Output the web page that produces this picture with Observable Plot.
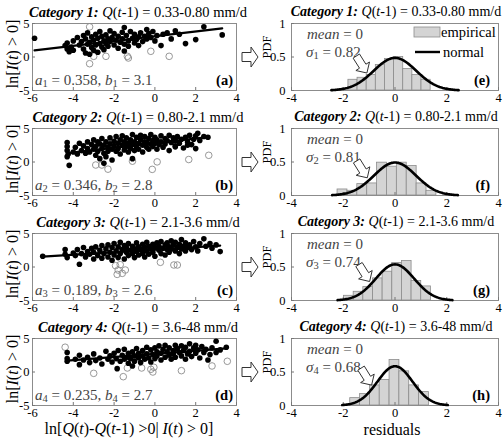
<!DOCTYPE html>
<html>
<head>
<meta charset="utf-8">
<script src="https://cdn.jsdelivr.net/npm/d3@7"></script>
<script src="https://cdn.jsdelivr.net/npm/@observablehq/plot@0.6"></script>
<style>
  html, body { margin: 0; padding: 0; background: #fff; }
  #fig { position: relative; width: 504px; height: 440px; overflow: hidden; font-family: "Liberation Serif", "Times New Roman", serif; }
  #fig sub { font-size: 70%; vertical-align: -0.28em; line-height: 0; }
</style>
</head>
<body>
<div id="fig"></div>
<script>
// ---- tick values ----
const xTicksL = [-6, -4, -2, 0, 2, 4];
const yTicksL = [-5, 0, 5];
const xTicksR = [-4, -2, 0, 2, 4];
const yTicksR = [0, 0.5, 1];

// ---- categories and fitted parameters ----
const categories = ["1", "2", "3", "4"];
const qRanges = ["0.33-0.80", "0.80-2.1", "2.1-3.6", "3.6-48"];
const slopeA = [0.358, 0.346, 0.189, 0.235];
const interceptB = [3.1, 2.8, 2.6, 2.7];
const sigma = [0.82, 0.81, 0.74, 0.68];
const leftTags = ["(a)", "(b)", "(c)", "(d)"];
const rightTags = ["(e)", "(f)", "(g)", "(h)"];

// ---- scatter: [ln ΔQ, ln I] pairs, used in the fit ----
const filled1 = [
  [-5.9,2.8],[-4.4,1.7],[-4.3,1.2],[-4.3,2.1],[-4.2,0.8],[-4.1,1.5],[-4.0,2.4],[-4.0,1.0],
  [-3.8,2.9],[-3.7,1.8],[-3.6,2.3],[-3.5,3.2],[-3.5,1.2],[-3.4,0.6],[-3.4,2.7],[-3.3,1.9],[-3.3,3.6],
  [-3.2,0.4],[-3.2,2.2],[-3.1,1.4],[-3.1,3.0],[-3.0,2.5],[-3.0,1.0],[-2.9,3.4],[-2.9,1.8],[-2.8,2.8],
  [-2.8,0.7],[-2.7,2.0],[-2.7,3.8],[-2.6,1.5],[-2.6,3.1],[-2.5,2.4],[-2.5,1.1],[-2.4,3.3],[-2.4,2.0],
  [-2.3,2.7],[-2.3,1.6],[-2.2,3.9],[-2.2,2.3],[-2.1,2.9],[-2.0,1.8],[-2.0,3.5],[-1.9,2.5],[-1.8,1.3],
  [-1.8,3.1],[-1.7,2.2],[-1.6,3.7],[-1.6,2.7],[-1.5,1.9],[-1.5,0.9],[-1.5,4.4],[-1.4,3.2],[-1.3,2.4],
  [-1.3,1.6],[-1.2,3.8],[-1.1,2.8],[-1.0,2.1],[-1.0,3.4],[-0.9,2.6],[-0.8,3.0],[-0.8,1.7],[-0.7,3.6],
  [-0.6,2.3],[-0.5,3.1],[-0.4,4.1],[-0.4,2.7],[-0.3,3.5],[-0.2,2.9],[-0.1,3.8],[0.0,2.4],[0.1,3.2],
  [0.3,1.7],[0.4,3.4],[0.6,3.6],[0.8,2.7],[1.0,3.9],[1.2,3.4],[1.5,2.0],[2.0,2.6],[2.4,4.5],[3.3,3.3]
];
const open1 = [[-3.2,4.5],[-3.0,0.1],[-2.4,0.1],[-1.35,0.1],[-1.3,-0.15],[-0.2,0.85],[0.7,0.1],[-3.2,-1.0]];

const filled2 = [
  [-4.3,2.9],[-4.3,2.3],[-4.3,1.7],[-4.25,1.2],[-4.3,0.8],[-4.2,-0.5],
  [-4.0,1.5],[-3.9,2.2],[-3.8,1.2],[-3.7,2.8],[-3.6,1.7],[-3.5,2.4],[-3.4,1.3],[-3.3,3.0],[-3.3,2.0],
  [-3.2,1.5],[-3.1,2.6],[-3.0,3.3],[-3.0,1.9],[-2.9,2.3],[-2.9,1.0],[-2.8,3.0],[-2.8,1.6],[-2.7,2.7],
  [-2.7,0.5],[-2.6,2.0],[-2.6,3.5],[-2.5,1.3],[-2.5,2.5],[-2.5,-0.2],[-2.4,3.0],[-2.4,0.8],[-2.3,2.2],
  [-2.3,1.6],[-2.2,3.6],[-2.2,2.7],[-2.1,1.9],[-2.1,0.3],[-2.0,3.1],[-2.0,2.4],[-1.9,1.6],[-1.9,3.8],
  [-1.8,2.8],[-1.8,2.0],[-1.7,3.3],[-1.7,1.2],[-1.6,2.5],[-1.6,3.9],[-1.5,1.8],[-1.5,3.0],[-1.4,2.3],
  [-1.4,3.6],[-1.3,1.5],[-1.3,2.8],[-1.2,3.3],[-1.2,2.0],[-1.1,4.1],[-1.1,2.6],[-1.1,0.5],[-1.0,3.0],
  [-1.0,1.7],[-0.9,2.3],[-0.9,3.7],[-0.8,2.8],[-0.8,1.9],[-0.7,3.3],[-0.7,4.0],[-0.6,2.5],[-0.6,1.5],
  [-0.5,3.0],[-0.5,3.8],[-0.4,2.2],[-0.4,2.9],[-0.3,3.5],[-0.3,1.9],[-0.2,2.7],[-0.2,4.1],[-0.1,3.2],
  [-0.1,2.3],[0.0,3.7],[0.0,2.8],[0.1,3.3],[0.1,1.9],[0.2,2.6],[0.3,3.9],[0.3,3.0],[0.4,2.2],[0.5,3.5],
  [0.5,2.7],[0.6,3.2],[0.7,4.0],[0.7,1.7],[0.8,2.9],[0.9,3.6],[1.0,2.4],[1.0,3.2],[1.0,2.26],[1.1,3.8],
  [1.2,2.8],[1.3,3.4],[1.4,2.1],[1.5,3.7],[1.6,3.0],[1.6,2.5],[1.7,4.0],[1.8,2.6],[1.9,3.4],[2.0,2.0],
  [2.0,3.9],[2.1,4.3],[2.2,3.2],[2.4,3.8],[2.6,3.7]
];
const open2 = [[-2.9,-0.45],[-2.6,-0.45],[-2.3,-1.07],[-1.1,0.12],[-0.13,-1.1],[0.11,0.02],[1.66,0.37],[2.64,1.0]];

const filled3 = [
  [-5.5,1.6],[-4.4,2.6],[-4.4,1.9],[-4.3,1.4],[-4.0,2.1],[-3.9,1.7],[-3.8,2.6],[-3.7,0.4],[-3.6,2.0],
  [-3.5,2.9],[-3.4,1.5],[-3.3,2.3],[-3.2,1.9],[-3.1,2.8],[-3.0,1.2],[-3.0,2.2],[-2.9,3.0],[-2.8,1.7],
  [-2.7,2.5],[-2.6,1.3],[-2.6,3.2],[-2.5,2.0],[-2.4,2.7],[-2.3,1.5],[-2.3,3.3],[-2.2,2.2],[-2.1,1.0],
  [-2.1,2.9],[-2.0,1.8],[-2.0,3.5],[-1.9,2.4],[-1.8,1.4],[-1.8,3.0],[-1.7,2.0],[-1.7,3.7],[-1.6,2.6],
  [-1.5,1.2],[-1.5,3.2],[-1.4,2.2],[-1.4,2.9],[-1.3,1.7],[-1.3,3.5],[-1.2,2.5],[-1.1,2.0],[-1.1,3.1],
  [-1.0,1.4],[-1.0,2.7],[-0.9,3.6],[-0.9,2.3],[-0.8,1.8],[-0.8,3.0],[-0.7,2.6],[-0.6,3.4],[-0.6,2.0],
  [-0.5,1.5],[-0.5,2.9],[-0.4,2.4],[-0.4,3.7],[-0.3,3.1],[-0.3,1.9],[-0.2,2.7],[-0.1,3.4],[-0.1,2.2],
  [0.0,2.9],[0.0,1.6],[0.1,3.6],[0.2,2.5],[0.2,3.1],[0.3,2.0],[0.3,3.8],[0.4,2.8],[0.5,3.3],[0.5,1.8],
  [0.6,2.6],[0.6,3.6],[0.7,3.0],[0.7,2.2],[0.8,3.9],[0.8,2.7],[0.9,3.3],[1.0,2.4],[1.0,3.7],[1.1,2.9],
  [1.2,3.4],[1.2,2.0],[1.3,4.1],[1.3,2.7],[1.4,3.1],[1.5,2.4],[1.5,3.6],[1.6,2.9],[1.7,3.3],[1.8,2.6],
  [1.9,3.8],[2.0,3.0],[2.1,2.4],[2.2,3.5],[2.4,4.2],[2.5,3.1],[2.7,3.5],[2.8,2.8],[3.0,3.3],[3.2,2.3]
];
const open3 = [[-1.93,0.2],[-1.7,0.35],[-1.8,-0.45],[-1.6,-0.95],[-1.85,-1.1],[-1.45,-0.45],[0.27,0.7],[0.93,0.3],[1.1,0.3]];

const filled4 = [
  [-4.3,2.9],[-4.3,2.0],[-4.3,1.6],[-3.9,1.9],[-3.7,2.5],[-3.7,1.1],[-3.5,1.8],[-3.3,2.2],[-3.2,1.4],
  [-3.0,2.7],[-2.9,1.7],[-2.7,2.1],[-2.6,1.2],[-2.4,3.1],[-2.3,1.9],[-2.2,2.4],[-2.1,1.5],[-2.0,2.8],
  [-1.9,2.0],[-1.85,0.5],[-1.8,3.2],[-1.7,1.6],[-1.6,2.5],[-1.5,1.9],[-1.5,3.4],[-1.4,2.2],[-1.3,1.3],
  [-1.3,2.8],[-1.2,2.0],[-1.1,0.9],[-1.1,3.0],[-1.0,2.4],[-1.0,1.6],[-0.9,3.5],[-0.8,2.1],[-0.8,2.8],
  [-0.7,1.4],[-0.6,3.2],[-0.6,2.4],[-0.5,1.9],[-0.4,3.7],[-0.4,2.7],[-0.3,2.1],[-0.2,3.3],[-0.2,1.5],
  [-0.1,2.6],[0.0,3.6],[0.0,2.0],[0.1,3.0],[0.1,2.4],[0.2,3.9],[0.3,1.8],[0.3,2.8],[0.4,3.4],[0.5,2.2],
  [0.5,4.0],[0.6,3.0],[0.7,2.5],[0.7,3.6],[0.8,1.9],[0.9,3.2],[0.9,2.7],[1.0,4.0],[1.0,2.2],[1.1,3.5],
  [1.2,2.9],[1.3,3.9],[1.3,2.4],[1.4,3.2],[1.5,1.9],[1.5,3.7],[1.6,2.7],[1.7,4.2],[1.7,3.1],[1.8,2.3],
  [1.9,3.6],[2.0,2.8],[2.0,4.0],[2.1,3.3],[2.2,2.1],[2.3,3.8],[2.4,2.9],[2.5,3.4],[2.6,1.8],[2.7,2.6],
  [2.8,3.6],[3.0,4.6],[3.0,2.9],[3.2,3.3],[3.5,3.7]
];
const open4 = [[-4.4,3.7],[-3.0,-0.2],[-1.55,-0.7],[-1.35,0.6],[-0.65,0.6],[-0.2,0.4],[-0.05,0.7],[-0.1,0.0],[1.3,0.2],[2.8,0.9],[3.55,1.6]];

const filledSets = [filled1, filled2, filled3, filled4];
const openSets = [open1, open2, open3, open4];

// ---- residual histograms: first bin edge, bin width, densities ----
const histStart = [-1.8, -2.22, -1.97, -1.73];
const histWidth = [0.353, 0.382, 0.373, 0.38];
const hist1 = [0.16, 0.19, 0.23, 0.38, 0.47, 0.50, 0.32, 0.23, 0.16];
const hist2 = [0.09, 0.07, 0.17, 0.18, 0.49, 0.43, 0.49, 0.44, 0.18, 0.07];
const hist3 = [0.07, 0.13, 0.20, 0.33, 0.43, 0.56, 0.59, 0.29, 0.21];
const hist4 = [0.11, 0.17, 0.30, 0.38, 0.68, 0.51, 0.30, 0.20];
const histSets = [hist1, hist2, hist3, hist4];

// ---- layout ----
const FONT = '"Liberation Serif", "Times New Roman", serif';
const panelTop = [23, 128, 233, 338];
const frameH = 67;
const LX = [32, 236];
const RX = [291, 498];
const fig = document.getElementById("fig");

const baseStyle = {fontFamily: FONT, fontSize: "12.5px", color: "#000", background: "transparent", overflow: "visible"};

function place(el, left, top) {
  el.style.position = "absolute";
  el.style.left = left + "px";
  el.style.top = top + "px";
  fig.appendChild(el);
  return el;
}

function label(html, x, y, opts = {}) {
  const {size = 13.5, align = "left", color = "#000", rotate = 0, weight = "normal"} = opts;
  const d = document.createElement("div");
  d.innerHTML = html;
  Object.assign(d.style, {
    position: "absolute", left: x + "px", top: y + "px", fontFamily: FONT,
    fontSize: size + "px", lineHeight: "1", whiteSpace: "nowrap", color, fontWeight: weight
  });
  const tx = align === "left" ? "0" : align === "center" ? "-50%" : "-100%";
  d.style.transform = `translate(${tx}, -50%)` + (rotate ? ` rotate(${rotate}deg)` : "");
  fig.appendChild(d);
  return d;
}

const normalPdf = (x, s) => Math.exp(-x * x / (2 * s * s)) / (s * Math.sqrt(2 * Math.PI));
const arrowSpots = [];

// ---- scatter panels (a)-(d) ----
categories.forEach((c, i) => {
  const mt = 6, mb = 20, mr = 10;
  const filled = filledSets[i], open = openSets[i];
  const fit = d3.extent(filled, d => d[0]).map(x => ({x, y: slopeA[i] * x + interceptB[i]}));
  const plot = Plot.plot({
    width: LX[1] + mr, height: mt + frameH + mb,
    marginTop: mt, marginBottom: mb, marginLeft: LX[0], marginRight: mr,
    style: baseStyle,
    x: {domain: [-6, 4], label: null},
    y: {domain: [-5, 5], label: null},
    marks: [
      Plot.frame({stroke: "#8c8c8c"}),
      Plot.axisX(xTicksL, {tickSize: -3, tickPadding: 6, tickFormat: d => String(d), label: null, stroke: "#777"}),
      Plot.axisY(yTicksL, {tickSize: -3, tickPadding: 6, tickFormat: d => String(d), label: null, stroke: "#777"}),
      Plot.dot(open, {x: d => d[0], y: d => d[1], r: 3.3, stroke: "#8c8c8c", strokeWidth: 0.9, fill: "none"}),
      Plot.dot(filled, {x: d => d[0], y: d => d[1], r: 2.8, fill: "#000", stroke: "none"}),
      Plot.line(fit, {x: "x", y: "y", stroke: "#000", strokeWidth: 2.2})
    ]
  });
  place(plot, 0, panelTop[i] - mt);

  const top = panelTop[i];
  label(`<b><i>Category ${c}:</i></b> <i>Q</i>(<i>t</i>-1) = ${qRanges[i]} mm/d`, 138, top - 11, {size: 14.5, align: "center"});
  label(`<i>a</i><sub>${c}</sub> = ${slopeA[i]}, <i>b</i><sub>${c}</sub> = ${interceptB[i]}`, 35, top + 57, {size: 15, color: "#444"});
  label(leftTags[i], 233, top + 57, {size: 14.5, align: "right", weight: "bold"});
  label(`ln[<i>I</i>(<i>t</i>) &gt; 0]`, 13, top + 31, {size: 16, align: "center", rotate: -90});
});

// ---- residual histogram panels (e)-(h) ----
categories.forEach((c, i) => {
  const mt = 6, mb = 20, ml = 30, mr = 6;
  const s = sigma[i];
  const bins = histSets[i].map((h, k) => ({
    x1: histStart[i] + k * histWidth[i],
    x2: histStart[i] + (k + 1) * histWidth[i],
    h
  }));
  const curve = d3.range(-60, 61).map(k => {
    const x = 3 * s * k / 60;
    return {x, y: normalPdf(x, s)};
  });
  const plot = Plot.plot({
    width: ml + (RX[1] - RX[0]) + mr, height: mt + frameH + mb,
    marginTop: mt, marginBottom: mb, marginLeft: ml, marginRight: mr,
    style: baseStyle,
    x: {domain: [-4, 4], label: null},
    y: {domain: [0, 1], label: null},
    marks: [
      Plot.rect(bins, {x1: "x1", x2: "x2", y1: 0, y2: "h", fill: "#d4d4d4", stroke: "#8c8c8c", strokeWidth: 0.8}),
      Plot.frame({stroke: "#8c8c8c"}),
      Plot.axisX(xTicksR, {tickSize: -3, tickPadding: 6, tickFormat: d => String(d), label: null, stroke: "#777"}),
      Plot.axisY(yTicksR, {tickSize: -3, tickPadding: 9, tickFormat: d => String(d), label: null, stroke: "#777"}),
      Plot.line(curve, {x: "x", y: "y", stroke: "#000", strokeWidth: 2.6})
    ]
  });
  const left = RX[0] - ml, topPx = panelTop[i] - mt;
  place(plot, left, topPx);

  // tip of the pointer sits just above the curve on its rising side
  const xs = plot.scale("x"), ys = plot.scale("y");
  const xt = -1.3 * s;
  arrowSpots.push([left + xs.apply(xt), topPx + ys.apply(normalPdf(xt, s)) - 3]);

  const top = panelTop[i];
  label(`<b><i>Category ${c}:</i></b> <i>Q</i>(<i>t</i>-1) = ${qRanges[i]} mm/d`, 396, top - 11, {size: 14, align: "center"});
  label(`<i>mean</i> = 0`, 307, top + 11, {size: 15, color: "#444"});
  label(`<i>σ</i><sub>${c}</sub> = ${s}`, 306, top + 29, {size: 15, color: "#444"});
  label(rightTags[i], 490, top + 57, {size: 14.5, align: "right", weight: "bold"});
  label("PDF", 267, top + 24, {size: 12.5, align: "center", rotate: -90});
});

// legend of panel (e)
label("empirical", 441, panelTop[0] + 9, {size: 14.5});
label("normal", 443, panelTop[0] + 29, {size: 14.5});

// bottom axis titles
label(`ln[<i>Q</i>(<i>t</i>)-<i>Q</i>(<i>t</i>-1) &gt;0| <i>I</i>(<i>t</i>) &gt; 0]`, 129, 429, {size: 16, align: "center"});
label("residuals", 392, 430, {size: 16, align: "center"});

// ---- overlay: legend swatches and block arrows ----
const svg = d3.create("svg").attr("width", 504).attr("height", 440)
  .style("position", "absolute").style("left", "0px").style("top", "0px").style("pointer-events", "none");

svg.append("rect").attr("x", 414).attr("y", panelTop[0] + 4).attr("width", 26).attr("height", 10)
  .attr("fill", "#d4d4d4").attr("stroke", "#8c8c8c").attr("stroke-width", 0.8);
svg.append("line").attr("x1", 415).attr("x2", 440).attr("y1", panelTop[0] + 29).attr("y2", panelTop[0] + 29)
  .attr("stroke", "#000").attr("stroke-width", 2.4);

function blockArrow(tail, tip, w, hw, hl) {
  const dx = tip[0] - tail[0], dy = tip[1] - tail[1];
  const len = Math.hypot(dx, dy);
  const ux = dx / len, uy = dy / len, nx = -uy, ny = ux;
  const bx = tip[0] - ux * hl, by = tip[1] - uy * hl;
  const pts = [
    [tail[0] + nx * w, tail[1] + ny * w],
    [bx + nx * w, by + ny * w],
    [bx + nx * hw, by + ny * hw],
    tip,
    [bx - nx * hw, by - ny * hw],
    [bx - nx * w, by - ny * w],
    [tail[0] - nx * w, tail[1] - ny * w]
  ];
  return "M" + pts.map(p => p[0].toFixed(1) + "," + p[1].toFixed(1)).join("L") + "Z";
}

panelTop.forEach((top, i) => {
  // arrow linking each scatter panel to its residual histogram
  const cy = top + 34;
  svg.append("path").attr("d", blockArrow([242, cy], [258, cy], 4.5, 10, 7))
    .attr("fill", "#fff").attr("stroke", "#333").attr("stroke-width", 1);
  // pointer from the sigma label to the normal curve
  const tip = arrowSpots[i];
  const ang = 58 * Math.PI / 180;
  const tail = [tip[0] - 20 * Math.cos(ang), tip[1] - 20 * Math.sin(ang)];
  svg.append("path").attr("d", blockArrow(tail, tip, 3.8, 8, 8))
    .attr("fill", "#fff").attr("stroke", "#333").attr("stroke-width", 1);
});

fig.appendChild(svg.node());
</script>
</body>
</html>
